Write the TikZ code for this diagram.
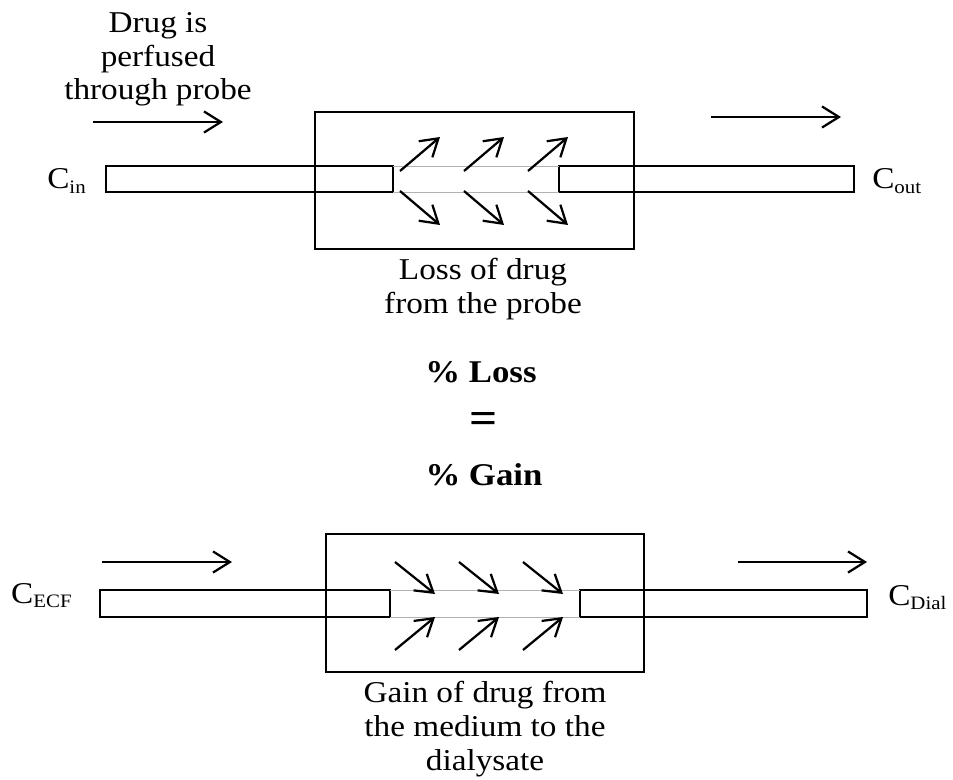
\documentclass[tikz,border=0pt]{standalone}
\usepackage{fontspec}
\setmainfont[FakeStretch=1.1]{Liberation Serif}
\usetikzlibrary{arrows.meta}

\tikzset{
  wall/.style={line width=2pt},
  tube/.style={line width=2pt},
  membrane/.style={gray!60, line width=0.6pt},
  flow/.style={line width=1.6pt, -{Straight Barb[length=12pt,width=15pt,line width=1.6pt]}},
  label/.style={inner sep=0pt, font=\fontsize{21.5}{24}\selectfont, align=center},
  conc/.style={inner sep=0pt, font=\fontsize{21.5}{24}\selectfont},
  result/.style={inner sep=0pt, font=\fontsize{22.5}{24}\selectfont\bfseries}
}
\newcommand{\Csub}[1]{C\raisebox{-3pt}{\fontsize{13.5}{13.5}\selectfont #1}}

\begin{document}
\begin{tikzpicture}[x=0.025cm, y=-0.025cm]
    \useasboundingbox (0,0) rectangle (953,780);

    % Probe losing drug (top)
    \coordinate (inA) at (106,166);  \coordinate (inB) at (393,192);
    \coordinate (outA) at (559,166); \coordinate (outB) at (854,192);
    \draw[wall] (315,112) rectangle (634,249);
    \draw[tube] (inA) rectangle (inB);
    \draw[tube] (outA) rectangle (outB);
    \draw[membrane] (inA -| inB) -- (outA);
    \draw[membrane] (inB) -- (outA |- outB);

    \node[conc, anchor=base east] (cin) at (86,189) {\Csub{in}};
    \node[conc, anchor=base west] (cout) at (872,189) {\Csub{out}};
    \node[label, anchor=north] (perf) at (158,12) {Drug is\\perfused\\through probe};
    \node[label, anchor=north] (loss) at (483,258) {Loss of drug\\from the probe};

    \coordinate (f1a) at (93,122);  \coordinate (f1b) at (223,122);
    \coordinate (f2a) at (711,117); \coordinate (f2b) at (841,117);
    \draw[flow] (f1a) -- (f1b);
    \draw[flow] (f2a) -- (f2b);

    % Outward arrows
    \draw[flow] (400,171) -- (440,137);
    \draw[flow] (464,171) -- (504,137);
    \draw[flow] (528,171) -- (568,137);
    \draw[flow] (400,191) -- (440,225);
    \draw[flow] (464,191) -- (504,225);
    \draw[flow] (528,191) -- (568,225);

    % Middle statement
    \node[result, anchor=base] (ploss) at (481,383) {\% Loss};
    \node[inner sep=0pt, font=\fontsize{32}{32}\selectfont\bfseries] (equal) at (484,423) {=};
    \node[result, anchor=base] (pgain) at (484,485) {\% Gain};

    % Probe gaining drug (bottom)
    \coordinate (ecfA) at (100,590);  \coordinate (ecfB) at (390,617);
    \coordinate (dialA) at (580,590); \coordinate (dialB) at (867,617);
    \draw[wall] (326,534) rectangle (644,672);
    \draw[tube] (ecfA) rectangle (ecfB);
    \draw[tube] (dialA) rectangle (dialB);
    \draw[membrane] (ecfA -| ecfB) -- (dialA);
    \draw[membrane] (ecfB) -- (dialA |- dialB);

    \node[conc, anchor=base east] (cecf) at (72,603) {\Csub{ECF}};
    \node[conc, anchor=base west] (cdial) at (888,605) {\Csub{Dial}};
    \node[label, anchor=north] (gain) at (485,681) {Gain of drug from\\the medium to the\\dialysate};

    \coordinate (f3a) at (102,562); \coordinate (f3b) at (232,562);
    \coordinate (f4a) at (738,562); \coordinate (f4b) at (867,562);
    \draw[flow] (f3a) -- (f3b);
    \draw[flow] (f4a) -- (f4b);

    % Inward arrows
    \draw[flow] (395,562) -- (435,594);
    \draw[flow] (459,562) -- (499,594);
    \draw[flow] (523,562) -- (563,594);
    \draw[flow] (395,650) -- (435,617);
    \draw[flow] (459,650) -- (499,617);
    \draw[flow] (523,650) -- (563,617);
\end{tikzpicture}
\end{document}
